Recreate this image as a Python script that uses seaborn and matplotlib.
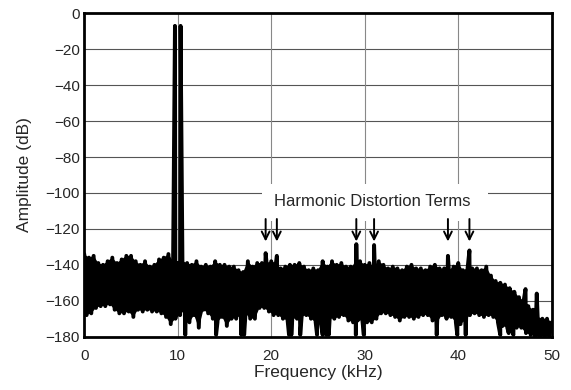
import numpy as np
import pandas as pd
import matplotlib.pyplot as plt
from matplotlib.patches import Rectangle
import seaborn as sns

# noise floor, upper edge read every 0.5 kHz (0 .. 50 kHz)
upper_khz = np.arange(0, 50.01, 0.5)
upper_db = [-134, -136, -135, -139, -140, -138, -136, -139, -137, -135,
            -135, -138, -140, -138, -141, -140, -137, -136, -134, -138,
            -139, -138, -139, -140, -138, -141, -140, -141, -138, -140,
            -140, -141, -141,
            -143, -144, -138, -141, -139, -139, -139, -138, -139, -142,
            -141, -140, -140, -139, -141, -143, -142, -143, -138, -141,
            -138, -140, -139, -141, -141, -140, -138, -140, -139, -141,
            -138, -140,
            -142, -141, -142, -143, -141, -140, -142, -142, -143, -141,
            -140, -142, -142, -143, -141, -139, -143, -142, -142, -142,
            -143, -141, -146, -149, -150, -151, -153, -155, -158, -160,
            -163, -165, -169, -170, -170, -172]

# noise floor, lower edge read every 0.5 kHz (0.25 .. 49.75 kHz)
lower_khz = np.arange(0.25, 49.76, 0.5)
lower_db = [-168, -167, -164, -163, -163, -162, -165, -167, -167, -166,
            -169, -165, -166, -165, -166, -166, -167, -169, -173, -170,
            -168, -165, -172, -168, -175, -165, -167, -170, -172, -169,
            -174, -170,
            -170, -168, -167, -170, -170, -164, -164, -166, -168, -168,
            -170, -171, -170, -170, -169, -168, -170, -172, -170, -171,
            -170, -170, -169, -168, -171, -172, -171, -171, -172, -172,
            -170, -167,
            -167, -168, -169, -171, -169, -169, -170, -169, -168, -168,
            -171, -172, -168, -170, -169, -172, -173, -171, -168, -167,
            -168, -169, -168, -169, -172, -174, -175, -176, -175, -175,
            -178, -179, -180, -180, -180, -180]

# deep dips reaching the bottom of the plot
dip_khz = [10.8, 14.1, 16.8, 17.1, 21.9, 22.15, 23.1, 24.9, 25.5, 25.9,
           26.15, 29.05, 29.9, 37.7, 39.9, 40.8, 44.5, 45.4, 45.9]
dip_db = [-179, -179, -179, -179, -179, -179, -179, -179, -179, -179,
          -179, -179, -179, -179, -179, -179, -179, -178, -179]

# fundamental (two bins) and harmonic distortion terms
tone_khz = [9.7, 10.3]
tone_db = [-7, -7]
harm_khz = [19.4, 20.6, 29.1, 31.0, 38.9, 41.2]
harm_db = [-133.5, -135, -128.5, -129, -135, -132]
spur_khz = [47.2, 48.4]
spur_db = [-153.5, -156]

df = pd.concat([
    pd.DataFrame({"freq": upper_khz, "amp": upper_db}),
    pd.DataFrame({"freq": lower_khz, "amp": lower_db}),
    pd.DataFrame({"freq": dip_khz, "amp": dip_db}),
    pd.DataFrame({"freq": tone_khz, "amp": tone_db}),
    pd.DataFrame({"freq": harm_khz, "amp": harm_db}),
    pd.DataFrame({"freq": spur_khz, "amp": spur_db}),
]).sort_values("freq")

sns.set_style("white")
plt.rcParams["font.family"] = ["Liberation Sans", "DejaVu Sans"]

fig = plt.figure(figsize=(5.71, 3.9), dpi=100)
ax = fig.add_axes([0.1476, 0.1367, 0.8186, 0.8292])

# solid body of the noise floor between the two edges
ax.fill(np.r_[upper_khz, lower_khz[::-1]],
        np.r_[upper_db, lower_db[::-1]],
        color="black", lw=0, zorder=2)
sns.lineplot(data=df, x="freq", y="amp", color="black", lw=2.8,
             estimator=None, ax=ax, zorder=2)

ax.set_xlim(0, 50)
ax.set_ylim(-180, 0)
ax.set_xticks(range(0, 51, 10))
ax.set_yticks(range(-180, 1, 20))
ax.grid(False)
for y in range(-160, 0, 20):
    ax.axhline(y, color="#555555", lw=0.8, zorder=0.5)
for x in range(10, 50, 10):
    ax.axvline(x, color="#888888", lw=0.8, zorder=0.5)

ax.tick_params(axis="both", length=0, labelsize=11)
ax.tick_params(axis="x", pad=9)
ax.tick_params(axis="y", pad=3)
for s in ax.spines.values():
    s.set_visible(True)
    s.set_color("black")
    s.set_linewidth(2.0)

ax.set_xlabel("Frequency (kHz)", fontsize=12.5, labelpad=1)
ax.set_ylabel("Amplitude (dB)", fontsize=12.5, labelpad=10)

# label box with arrows pointing at the harmonics
ax.add_patch(Rectangle((19.0, -115.5), 24.2, 20.5, facecolor="white",
                       edgecolor="none", zorder=1))
ax.text(30.8, -104.5, "Harmonic Distortion Terms", ha="center",
        va="center", fontsize=12, zorder=3)
for f in harm_khz:
    ax.annotate("", xy=(f, -127), xytext=(f, -114.5),
                arrowprops=dict(arrowstyle="->", color="black", lw=1.4,
                                shrinkA=0, shrinkB=0, mutation_scale=14),
                zorder=3)

fig.savefig("out.png", dpi=100)
